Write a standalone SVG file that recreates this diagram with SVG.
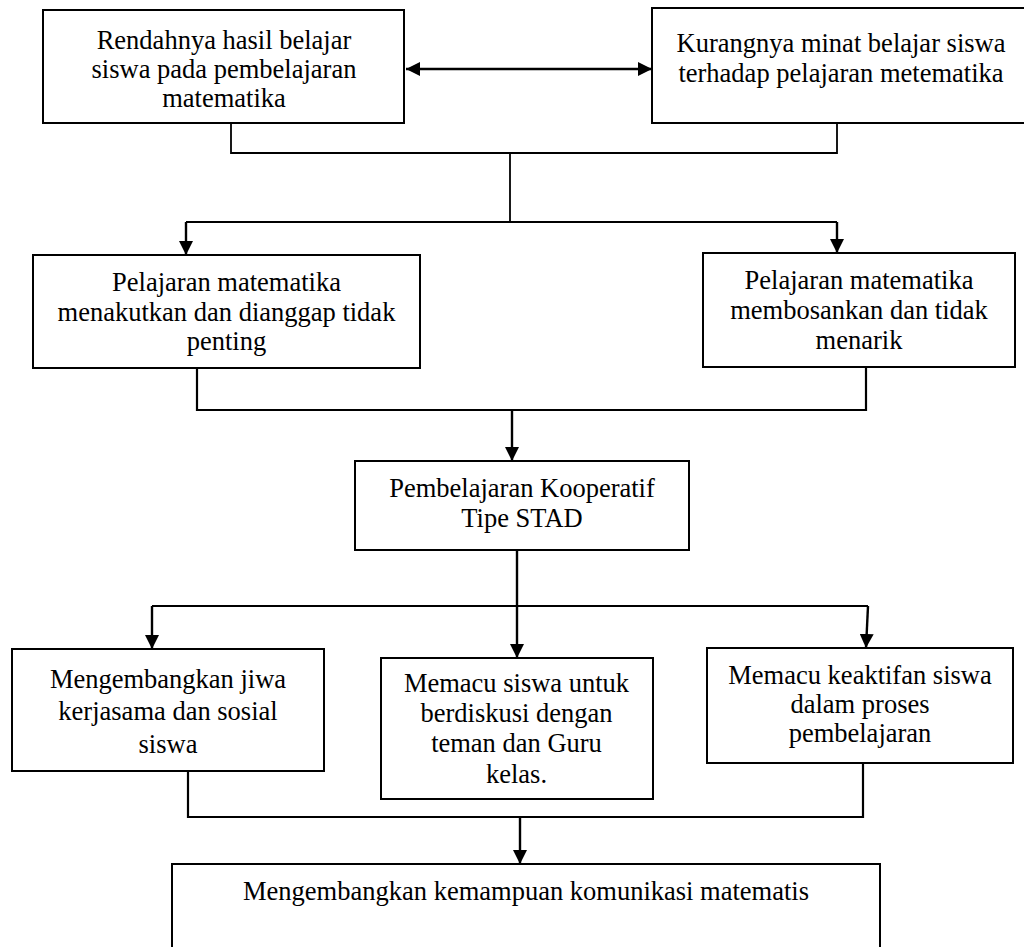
<svg xmlns="http://www.w3.org/2000/svg" width="1024" height="947" viewBox="0 0 1024 947">
  <defs>
    <marker id="arr" viewBox="0 0 14 14" refX="14" refY="7" markerWidth="14" markerHeight="14" markerUnits="userSpaceOnUse" orient="auto-start-reverse">
      <path d="M0,0 L14,7 L0,14 z" fill="#000"/>
    </marker>
  </defs>
  <style>
    .box { fill: #fff; stroke: #000; stroke-width: 2; }
    .t { font-family: "Liberation Serif", "Times New Roman", serif; font-size: 26.5px; fill: #000; text-anchor: middle; }
    .ln { fill: none; stroke: #000; stroke-width: 1.8; }
    .ar { fill: none; stroke: #000; stroke-width: 2.4; marker-end: url(#arr); }
  </style>
  <rect width="1024" height="947" fill="#fff"/>

  <g id="connectors">
    <line class="ar" x1="406" y1="69" x2="652" y2="69" marker-start="url(#arr)"/>
    <path class="ln" d="M231,123 V153 H837 V123"/>
    <path class="ln" d="M510,153 V222"/>
    <path class="ln" d="M186,222 H837" style="stroke-width:2.2"/>
    <path class="ar" d="M186,222 V255"/>
    <path class="ar" d="M837,222 V253"/>
    <path class="ln" d="M197,367 V410 H866 V367" style="stroke-width:2.2"/>
    <path class="ar" d="M512,410 V461"/>
    <path class="ar" d="M517,550 V658"/>
    <path class="ln" d="M152,606 H868" style="stroke-width:2.2"/>
    <path class="ar" d="M152,606 V649"/>
    <path class="ar" d="M868,606 L866,648"/>
    <path class="ln" d="M188,771 V817 H863 V763" style="stroke-width:2.2"/>
    <path class="ar" d="M520,817 V864"/>
  </g>

  <g id="node1">
    <rect class="box" x="43" y="10" width="361" height="113"/>
    <text class="t" x="224" y="49">Rendahnya hasil belajar</text>
    <text class="t" x="224" y="78">siswa pada pembelajaran</text>
    <text class="t" x="224" y="107">matematika</text>
  </g>
  <g id="node2">
    <rect class="box" x="652" y="8" width="390" height="115"/>
    <text class="t" x="841" y="52">Kurangnya minat belajar siswa</text>
    <text class="t" x="841" y="82">terhadap pelajaran metematika</text>
  </g>
  <g id="node3">
    <rect class="box" x="33" y="255" width="387" height="113"/>
    <text class="t" x="226.5" y="291">Pelajaran matematika</text>
    <text class="t" x="226.5" y="321">menakutkan dan dianggap tidak</text>
    <text class="t" x="226.5" y="350">penting</text>
  </g>
  <g id="node4">
    <rect class="box" x="703" y="253" width="312" height="114"/>
    <text class="t" x="859" y="289">Pelajaran matematika</text>
    <text class="t" x="859" y="319">membosankan dan tidak</text>
    <text class="t" x="859" y="349">menarik</text>
  </g>
  <g id="node5">
    <rect class="box" x="355" y="461" width="334" height="89"/>
    <text class="t" x="522" y="497">Pembelajaran Kooperatif</text>
    <text class="t" x="522" y="527">Tipe STAD</text>
  </g>
  <g id="node6">
    <rect class="box" x="12" y="649" width="312" height="122"/>
    <text class="t" x="168" y="688">Mengembangkan jiwa</text>
    <text class="t" x="168" y="720">kerjasama dan sosial</text>
    <text class="t" x="168" y="753">siswa</text>
  </g>
  <g id="node7">
    <rect class="box" x="381" y="658" width="272" height="141"/>
    <text class="t" x="516.5" y="692">Memacu siswa untuk</text>
    <text class="t" x="516.5" y="722">berdiskusi dengan</text>
    <text class="t" x="516.5" y="752">teman dan Guru</text>
    <text class="t" x="516.5" y="783">kelas.</text>
  </g>
  <g id="node8">
    <rect class="box" x="707" y="648" width="306" height="115"/>
    <text class="t" x="860" y="684">Memacu keaktifan siswa</text>
    <text class="t" x="860" y="713">dalam proses</text>
    <text class="t" x="860" y="742">pembelajaran</text>
  </g>
  <g id="node9">
    <rect class="box" x="172" y="864" width="708" height="110"/>
    <text class="t" x="526" y="900">Mengembangkan kemampuan komunikasi matematis</text>
  </g>
</svg>
